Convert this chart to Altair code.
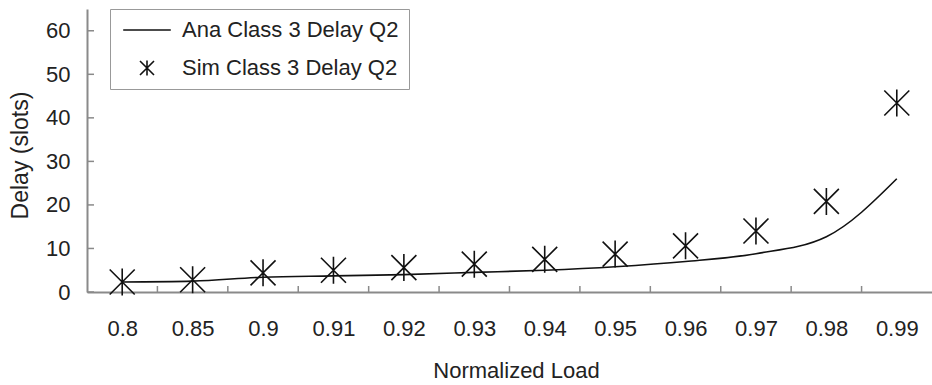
import altair as alt
import pandas as pd

loads = ["0.8", "0.85", "0.9", "0.91", "0.92", "0.93", "0.94", "0.95", "0.96", "0.97", "0.98", "0.99"]
ana_delay = [2.3, 2.5, 3.4, 3.7, 4.0, 4.5, 5.0, 5.8, 7.0, 8.8, 12.7, 26.0]
sim_delay = [2.3, 2.8, 4.4, 5.0, 5.6, 6.4, 7.5, 8.7, 10.6, 14.0, 20.8, 43.4]
series_names = ["Ana Class 3 Delay Q2", "Sim Class 3 Delay Q2"]
y_ticks = [0, 10, 20, 30, 40, 50, 60]

FONT = "Liberation Sans"
TXT = "#222222"
AXC = "#8a8a8a"
STAR = "M-1,-1L1,1M-1,1L1,-1M0,-1.08L0,1.08"
DASH = "M-3.4,0L3.4,0"

df = pd.DataFrame({
    "load": loads * 2,
    "delay": ana_delay + sim_delay,
    "series": [series_names[0]] * len(loads) + [series_names[1]] * len(loads),
})
ticks_df = pd.DataFrame({"delay": y_ticks})
bounds_df = pd.DataFrame({"load": loads[:-1]})

xscale = alt.Scale(type="point", domain=loads, padding=0.5)
yscale = alt.Scale(domain=[0, 65], nice=False)

xaxis = alt.Axis(
    title="Normalized Load", labelAngle=0, ticks=False, tickSize=0, grid=False,
    domainColor=AXC, domainWidth=2, labelFont=FONT, labelFontSize=22, labelColor=TXT,
    labelBaseline="alphabetic", labelPadding=43,
    titleFont=FONT, titleFontSize=22, titleFontWeight="normal", titleColor=TXT,
    titleBaseline="alphabetic", titleY=85, titleX=429,
)
yaxis = alt.Axis(
    title="Delay (slots)", values=y_ticks, ticks=False, tickSize=0, grid=False,
    domainColor=AXC, domainWidth=2, labelFont=FONT, labelFontSize=22, labelColor=TXT,
    labelPadding=17, titleFont=FONT, titleFontSize=23, titleFontWeight="normal",
    titleColor=TXT, titleBaseline="alphabetic", titleX=-60, titleY=146,
)

X = alt.X("load:N", sort=loads, scale=xscale, axis=xaxis)
Y = alt.Y("delay:Q", scale=yscale, axis=yaxis)

base = alt.Chart(df)

line = base.transform_filter(alt.datum.series == series_names[0]).mark_line(
    color="#111111", strokeWidth=1.6, interpolate="monotone"
).encode(x=X, y=Y)

points = base.transform_filter(alt.datum.series == series_names[1]).mark_point(
    color="#111111", filled=False, strokeWidth=1.6, size=625, opacity=1
).encode(
    x=X,
    y=Y,
    shape=alt.Shape(
        "series:N",
        scale=alt.Scale(domain=series_names, range=[DASH, STAR]),
        legend=alt.Legend(
            orient="none", legendX=23, legendY=0, title=None,
            strokeColor="#999999", fillColor="white", padding=10,
            symbolSize=196, symbolOffset=16, labelOffset=24,
            labelFont=FONT, labelFontSize=22, labelColor=TXT, labelLimit=400,
            rowPadding=16, symbolStrokeWidth=1.6, symbolStrokeColor="#111111",
            symbolFillColor="transparent", symbolOpacity=1,
        ),
    ),
)

ytick_marks = alt.Chart(ticks_df).mark_rule(color=AXC, strokeWidth=1.5).encode(
    y=Y,
    x=alt.value(0),
    x2=alt.value(7),
)

xtick_marks = alt.Chart(bounds_df).mark_rule(color=AXC, strokeWidth=1.5, xOffset=35.2).encode(
    x=X,
    y=alt.value(283),
    y2=alt.value(277),
)

chart = alt.layer(ytick_marks, xtick_marks, line, points).properties(
    width=845, height=283,
    autosize=alt.AutoSizeParams(type="none"),
    padding={"left": 87, "top": 9, "right": 0, "bottom": 93},
    background="white",
).configure_view(stroke=None)

chart.save("out.html", embed_options={"renderer": "svg", "actions": False})
